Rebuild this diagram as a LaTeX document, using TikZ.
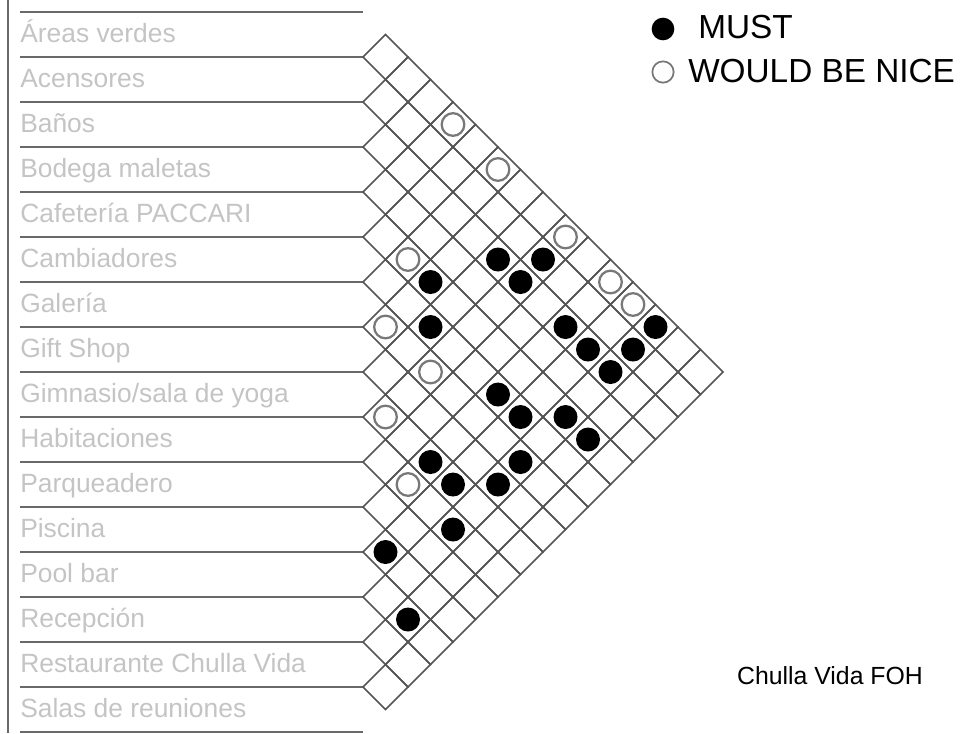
\documentclass[tikz,border=0pt]{standalone}
\usepackage{fontspec}
\setmainfont{Liberation Sans}
\definecolor{labelgray}{RGB}{196,196,196}
\definecolor{linegray}{RGB}{105,105,105}
\definecolor{gridgray}{RGB}{85,85,85}
\definecolor{ringgray}{RGB}{120,120,120}
\tikzset{
item/.style={anchor=base west, inner sep=0pt, text=labelgray, font=\fontsize{19.8}{23}\selectfont},
sepline/.style={draw=linegray, line width=1.8pt},
cell/.style={draw=gridgray, line width=1.2pt, line join=miter},
must/.style={circle, fill=black, minimum size=18pt, inner sep=0pt},
nice/.style={circle, draw=ringgray, line width=1.7pt, minimum size=17pt, inner sep=0pt},
keytext/.style={anchor=base west, inner sep=0pt, font=\fontsize{25}{30}\selectfont}
}

\begin{document}
\begin{tikzpicture}[x=0.75pt,y=0.75pt,yscale=-1]
\useasboundingbox (0,0) rectangle (963,733);

%Straight Lines
\draw [draw=linegray, line width=1.1pt] (8,0) -- (8,733);
\foreach \k in {0,...,16}
  \draw [sepline] (20,12+45*\k) -- (363,12+45*\k);

% Text Node
\foreach \name [count=\k from 0] in {Áreas verdes, Acensores, Baños, Bodega maletas,
  Cafetería PACCARI, Cambiadores, Galería, Gift Shop, {Gimnasio/sala de yoga},
  Habitaciones, Parqueadero, Piscina, Pool bar, Recepción,
  Restaurante Chulla Vida, Salas de reuniones}
  \node [item] (item\k) at (20,42+45*\k) {\name};

% grid of cells
\foreach \i in {0,...,14}{
  \pgfmathtruncatemacro\jstart{\i+1}
  \foreach \j in {\jstart,...,15}{
    \pgfmathsetmacro\cx{363+22.5*(\j-\i)}
    \pgfmathsetmacro\cy{34.5+22.5*(\i+\j)}
    \draw [cell] (\cx-22.5,\cy) -- (\cx,\cy-22.5) -- (\cx+22.5,\cy) -- (\cx,\cy+22.5) -- cycle;
  }
}

% must
\foreach \a/\b in {2/8,1/9,4/7,2/9,5/8,2/11,0/13,2/12,1/13,2/13,5/11,5/12,4/13,4/14,
  8/11,6/13,8/12,7/13,9/13,11/12,12/14}
  \node [must] (must-\a-\b) at (363+22.5*\b-22.5*\a, 34.5+22.5*\a+22.5*\b) {};
% would be nice
\foreach \a/\b in {0/4,0/6,0/9,4/6,0/11,0/12,6/7,6/9,8/9,9/11}
  \node [nice] (nice-\a-\b) at (363+22.5*\b-22.5*\a, 34.5+22.5*\a+22.5*\b) {};

% Text Node
\node [must, minimum size=17pt] (mustkey) at (663,29) {};
\node [keytext] (musttext) at (698,38) {MUST};
\node [nice, minimum size=16pt, line width=1.3pt] (nicekey) at (663,72) {};
\node [keytext] (nicetext) at (688,82) {WOULD BE NICE};
\node [anchor=base, inner sep=0pt, font=\fontsize{18.6}{22}\selectfont] (title) at (830,684) {Chulla Vida FOH};

\end{tikzpicture}
\end{document}
